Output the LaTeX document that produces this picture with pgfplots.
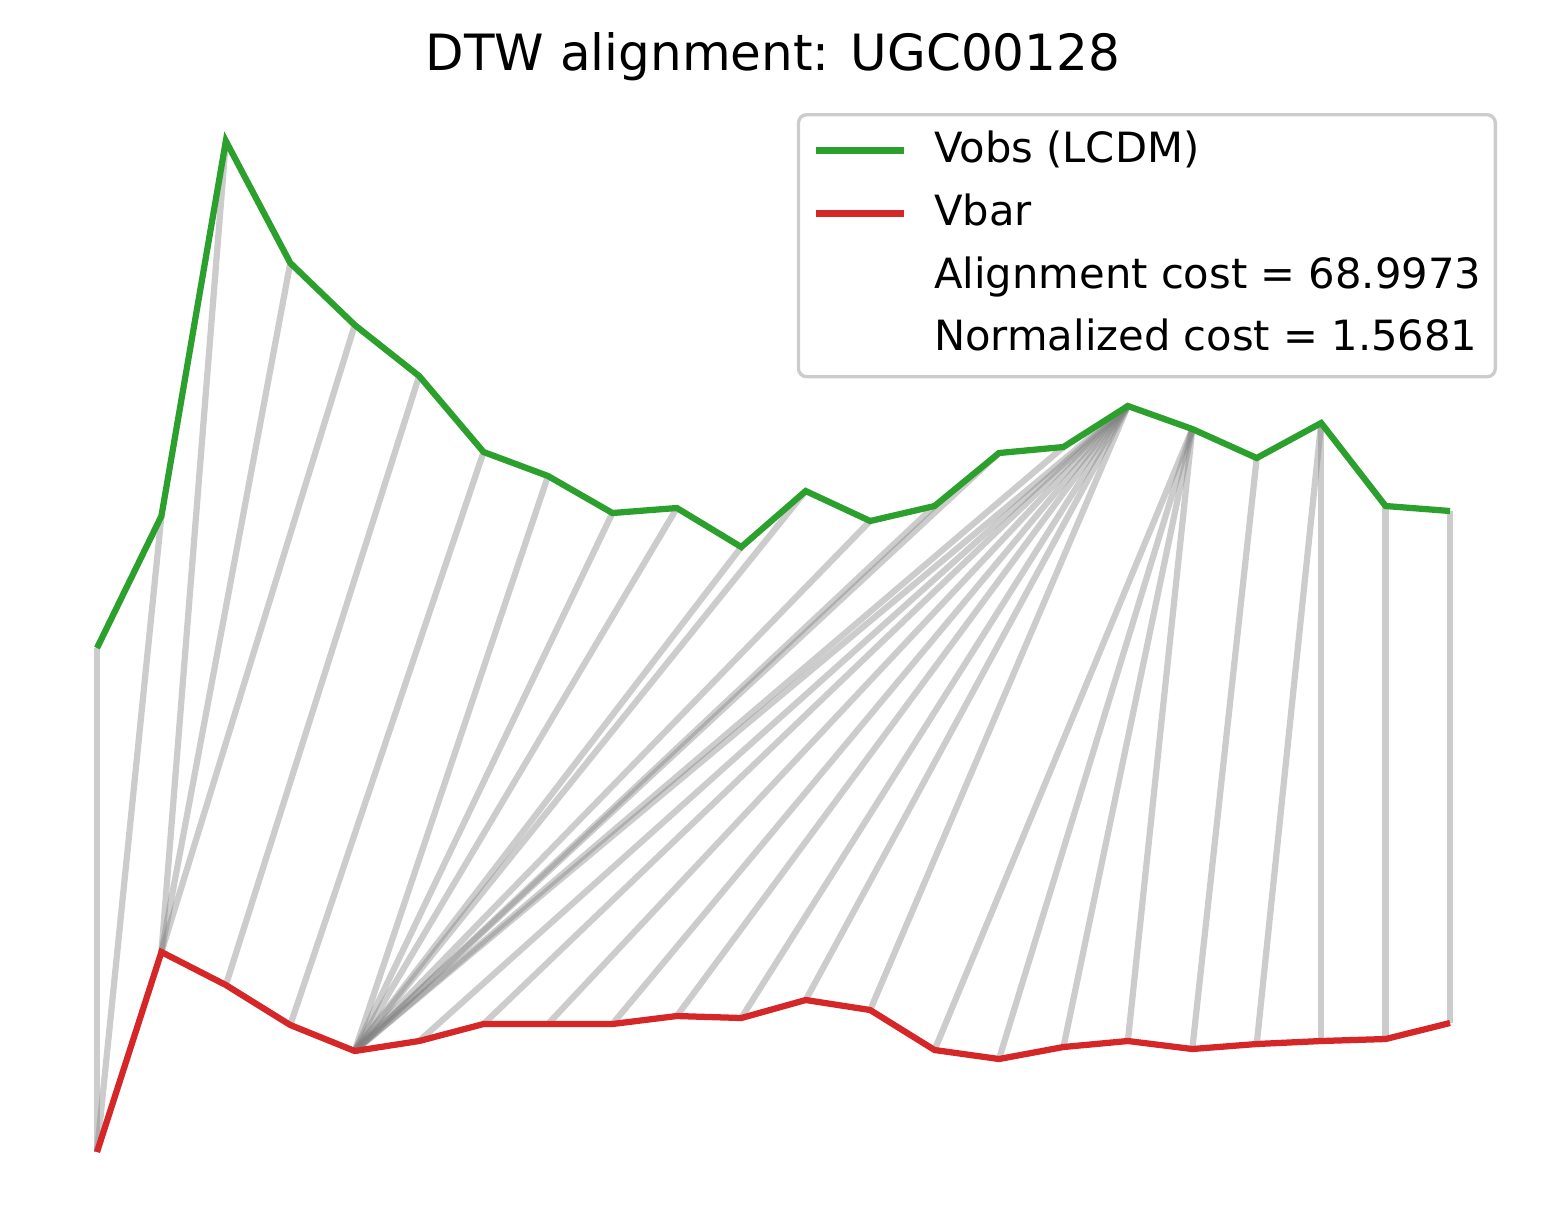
\documentclass[border=0pt]{standalone}
\usepackage{fontspec}
\setmainfont{DejaVu Sans}
\usepackage{pgfplots}
\pgfplotsset{compat=1.18}
\usepackage{pgfplotstable}
\definecolor{tabgreen}{HTML}{2CA02C}
\definecolor{tabred}{HTML}{D62728}
\definecolor{mplgray}{HTML}{808080}

\pgfplotstableread{
i y
0 583
1 715
2 1090
3 968
4 906
5 855
6 779
7 755
8 718
9 723
10 684
11 740
12 710
13 725
14 778
15 784
16 825
17 802
18 773
19 808
20 725
21 720
}\vobs

\pgfplotstableread{
i y
0 79
1 279
2 246
3 206
4 180
5 190
6 207
7 207
8 207
9 215
10 213
11 231
12 221
13 181
14 172
15 184
16 190
17 182
18 187
19 190
20 192
21 208
}\vbar

\begin{document}
\begin{tikzpicture}
\path[use as bounding box] (0,0) rectangle (371.52pt,295.44pt);
\begin{axis}[
  at={(0,0)}, anchor=south west,
  width=371.52pt, height=295.44pt, scale only axis,
  xmin=-1.50554, xmax=22.5211, ymin=0, ymax=1231,
  axis lines=none, clip=false,
  align/.style={mplgray, opacity=0.4, line width=1.5pt, forget plot},
  legend cell align=left,
  legend image code/.code={\draw[#1] (0pt,0.2pt) -- (21.1pt,0.2pt);},
  legend style={
    at={(0.96705,0.90821)}, anchor=north east,
    draw=black!20, line width=0.8pt, rounded corners=2pt,
    fill=white, fill opacity=0.8, text opacity=1,
    font=\fontsize{10}{12}\selectfont,
    inner xsep=3.4pt, inner ysep=3.8pt,
    row sep=5.1pt,
    nodes={inner sep=0pt, text height=7.6pt, text depth=2.4pt},
    /tikz/every odd column/.append style={column sep=6.6pt},
  },
]
% alignment path
\addplot[align] coordinates {(0,583) (0,79)};
\addplot[align] coordinates {(1,715) (0,79)};
\addplot[align] coordinates {(2,1090) (1,279)};
\addplot[align] coordinates {(3,968) (1,279)};
\addplot[align] coordinates {(4,906) (1,279)};
\addplot[align] coordinates {(5,855) (2,246)};
\addplot[align] coordinates {(6,779) (3,206)};
\addplot[align] coordinates {(7,755) (4,180)};
\addplot[align] coordinates {(8,718) (4,180)};
\addplot[align] coordinates {(9,723) (4,180)};
\addplot[align] coordinates {(10,684) (4,180)};
\addplot[align] coordinates {(11,740) (4,180)};
\addplot[align] coordinates {(12,710) (4,180)};
\addplot[align] coordinates {(13,725) (4,180)};
\addplot[align] coordinates {(14,778) (4,180)};
\addplot[align] coordinates {(15,784) (4,180)};
\addplot[align] coordinates {(16,825) (4,180)};
\addplot[align] coordinates {(16,825) (5,190)};
\addplot[align] coordinates {(16,825) (6,207)};
\addplot[align] coordinates {(16,825) (7,207)};
\addplot[align] coordinates {(16,825) (8,207)};
\addplot[align] coordinates {(16,825) (9,215)};
\addplot[align] coordinates {(16,825) (10,213)};
\addplot[align] coordinates {(16,825) (11,231)};
\addplot[align] coordinates {(16,825) (12,221)};
\addplot[align] coordinates {(17,802) (13,181)};
\addplot[align] coordinates {(17,802) (14,172)};
\addplot[align] coordinates {(17,802) (15,184)};
\addplot[align] coordinates {(17,802) (16,190)};
\addplot[align] coordinates {(18,773) (17,182)};
\addplot[align] coordinates {(19,808) (18,187)};
\addplot[align] coordinates {(19,808) (19,190)};
\addplot[align] coordinates {(20,725) (20,192)};
\addplot[align] coordinates {(21,720) (21,208)};
% series
\addplot[tabgreen, line width=1.5pt] table[x=i, y=y] {\vobs};
\addlegendentry{Vobs (LCDM)}
\addplot[tabred, line width=1.5pt] table[x=i, y=y] {\vbar};
\addlegendentry{Vbar}
\addlegendimage{empty legend}
\addlegendentry{Alignment cost = 68.9973}
\addlegendimage{empty legend}
\addlegendentry{Normalized cost = 1.5681}
\node[anchor=base, font=\fontsize{12}{14.4}\selectfont] at (axis cs:10.492,1161) {DTW alignment: UGC00128};
\end{axis}
\end{tikzpicture}
\end{document}
